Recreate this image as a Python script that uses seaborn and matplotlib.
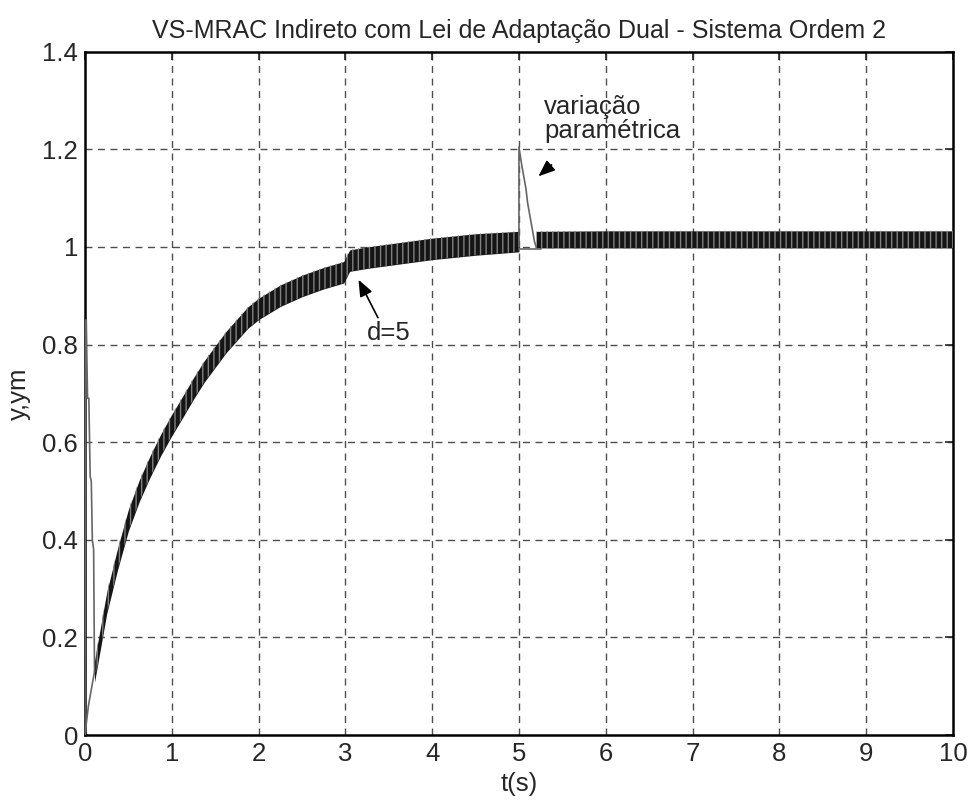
import numpy as np
import pandas as pd
import matplotlib
matplotlib.use("Agg")
import matplotlib.pyplot as plt
import seaborn as sns
from matplotlib.ticker import FormatStrFormatter

# ---- data ----
# chattering band (plant output y) : lower / upper envelopes
band1_t = [0.11, 0.25, 0.375, 0.5, 0.625, 0.75, 0.875, 1.0, 1.125, 1.25, 1.375, 1.5, 1.625,
           1.75, 1.875, 2.0, 2.25, 2.5, 2.75, 2.98, 3.05, 3.25, 3.5, 3.75, 4.0, 4.5, 5.0]
band1_lo = [0.108, 0.248, 0.338, 0.418, 0.478, 0.528, 0.573, 0.613, 0.65, 0.688, 0.723, 0.753, 0.783,
            0.808, 0.833, 0.851, 0.878, 0.898, 0.914, 0.926, 0.95, 0.956, 0.962, 0.968, 0.974, 0.983, 0.99]
band1_hi = [0.152, 0.292, 0.382, 0.462, 0.522, 0.572, 0.617, 0.657, 0.694, 0.732, 0.767, 0.797, 0.827,
            0.852, 0.877, 0.895, 0.922, 0.942, 0.958, 0.97, 0.994, 1.0, 1.006, 1.012, 1.018, 1.027, 1.032]

band2_t = [5.2, 6.0, 7.0, 8.0, 9.0, 10.0]
band2_lo = [0.998, 0.998, 0.998, 0.998, 0.998, 0.998]
band2_hi = [1.032, 1.033, 1.033, 1.033, 1.033, 1.033]

# thin grey traces
init_t = [0.0, 0.008, 0.015, 0.03, 0.045, 0.06, 0.073, 0.085, 0.10, 0.11]
init_y = [0.0, 0.85, 0.85, 0.69, 0.69, 0.53, 0.52, 0.40, 0.38, 0.13]
rise_t = [0.0, 0.02, 0.04, 0.06, 0.08, 0.10, 0.11]
rise_y = [0.0, 0.03, 0.06, 0.08, 0.10, 0.12, 0.13]
spike_t = [5.0, 5.0, 5.03, 5.05, 5.08, 5.1, 5.13, 5.15, 5.18, 5.2]
spike_y = [1.0, 1.205, 1.17, 1.15, 1.12, 1.09, 1.06, 1.04, 1.01, 1.0]
base_t = [5.0, 5.25]
base_y = [0.995, 0.995]

title = "VS-MRAC Indireto com Lei de Adaptação Dual - Sistema Ordem 2"
xlabel = "t(s)"
ylabel = "y,ym"
xticks = list(range(0, 11))
yticks = [0, 0.2, 0.4, 0.6, 0.8, 1.0, 1.2, 1.4]

# ---- figure ----
sns.set_style("white")
plt.rcParams['font.family'] = ['Liberation Sans', 'DejaVu Sans']
FS = 18.5

fig = plt.figure(figsize=(9.72, 8.07), dpi=100)
ax = fig.add_axes([0.0874, 0.0892, 0.893, 0.8467])

grid_kw = dict(color='0.3', linewidth=1.0, linestyle=(0, (5, 4)), zorder=0)
for xt in xticks[1:-1]:
    ax.axvline(xt, **grid_kw)
for yt in yticks[1:-1]:
    ax.axhline(yt, **grid_kw)

# bands
for t, lo, hi in [(band1_t, band1_lo, band1_hi), (band2_t, band2_lo, band2_hi)]:
    ax.fill_between(t, lo, hi, color='#151515', linewidth=0, zorder=2)
    ax.fill_between(t, lo, hi, facecolor='none', edgecolor='#808080', hatch='|||', linewidth=0, zorder=3)

df_init = pd.DataFrame({'t': init_t, 'y': init_y})
df_rise = pd.DataFrame({'t': rise_t, 'y': rise_y})
df_spike = pd.DataFrame({'t': spike_t, 'y': spike_y})
df_base = pd.DataFrame({'t': base_t, 'y': base_y})
for d in [df_init, df_rise, df_spike, df_base]:
    sns.lineplot(data=d, x='t', y='y', ax=ax, color='#666666', linewidth=1.2,
                 estimator=None, sort=False, zorder=4)

ax.set_xlim(0, 10)
ax.set_ylim(0, 1.4)
ax.set_xticks(xticks)
ax.set_yticks(yticks)
ax.yaxis.set_major_formatter(FormatStrFormatter('%g'))
ax.tick_params(direction='in', length=6, width=1.2, labelsize=FS, top=True, right=True, pad=5)
for s in ax.spines.values():
    s.set_color('black')
    s.set_linewidth(1.8)

ax.set_title(title, fontsize=18, pad=10)
ax.set_xlabel(xlabel, fontsize=FS, labelpad=4)
ax.set_ylabel(ylabel, fontsize=FS, labelpad=8)

ax.annotate('', xy=(3.137, 0.938), xytext=(3.39, 0.85),
            arrowprops=dict(arrowstyle='-|>,head_length=1.0,head_width=0.4', color='black', lw=1.2), zorder=6)
ax.text(3.245, 0.824, 'd=5', fontsize=FS, ha='left', va='center', zorder=6)

ax.annotate('', xy=(5.20, 1.141), xytext=(5.40, 1.172),
            arrowprops=dict(arrowstyle='-|>,head_length=1.0,head_width=0.4', color='black', lw=1.2), zorder=6)
ax.text(5.29, 1.262, 'variação\nparamétrica', fontsize=FS, ha='left', va='center',
        linespacing=1.0, zorder=6)

fig.savefig('out.png', dpi=100)
